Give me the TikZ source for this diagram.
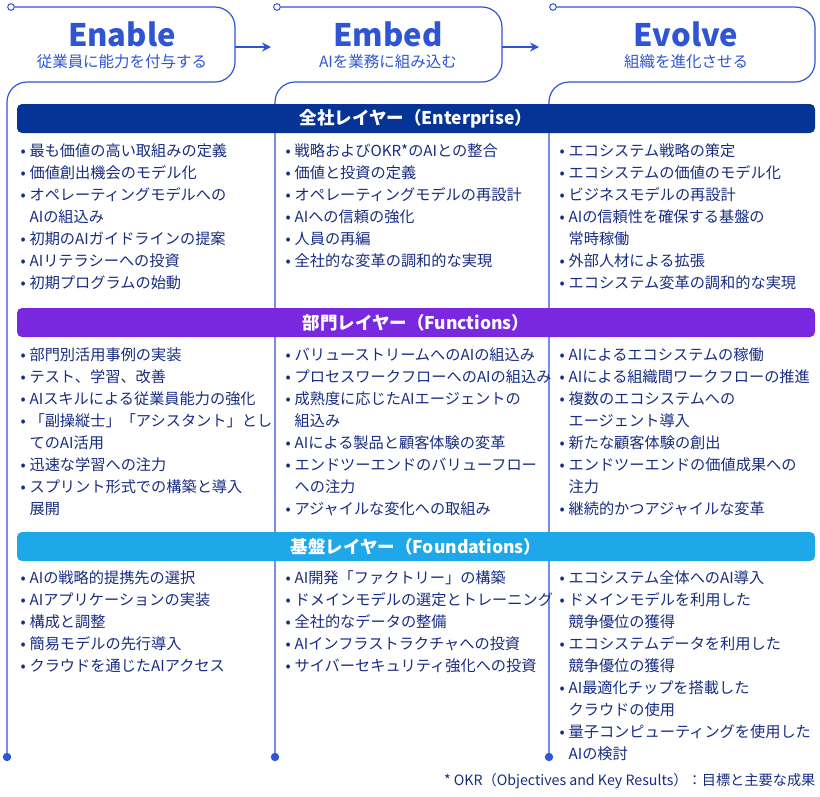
\documentclass[tikz,border=0pt]{standalone}
\usepackage{fontspec}
\setmainfont{Noto Sans CJK JP}
\usetikzlibrary{arrows.meta}

\definecolor{lineblue}{RGB}{47,85,212}
\definecolor{textblue}{RGB}{24,44,130}
\definecolor{entblue}{RGB}{6,52,150}
\definecolor{funpurple}{RGB}{122,40,224}
\definecolor{fndblue}{RGB}{30,168,234}

\newcommand{\bl}{\makebox[9pt][l]{•}}
\newcommand{\nb}{\hspace*{9pt}}

\tikzset{every picture/.style={line width=1.2pt},
  itemtxt/.style={anchor=west,inner sep=0pt,text=textblue,font=\fontsize{15.2}{17}\selectfont},
  layerbar/.style={rounded corners=5pt,draw=none},
  layertxt/.style={text=white,font=\fontsize{17.5}{19}\selectfont\bfseries},
  phasetitle/.style={text=lineblue,font=\fontsize{31}{33}\selectfont\bfseries},
  phasesub/.style={text=lineblue,font=\fontsize{15.5}{17}\selectfont},
  colline/.style={draw=lineblue,rounded corners=20pt}}

\newcommand{\itemcol}[4]{%
  \foreach \t [count=\i] in {#4}
    \node[itemtxt] (#1-\i) at (#2,{#3+22*(\i-1)}) {\t};}

\begin{document}
\begin{tikzpicture}[x=1pt,y=1pt,yscale=-1,xscale=1]
\useasboundingbox (0,0) rectangle (820,796);

% column frames
\coordinate (en-top) at (11,7);
\coordinate (em-top) at (277,7);
\coordinate (ev-top) at (553,7);
\coordinate (en-end) at (7,757);
\coordinate (em-end) at (275,757);
\coordinate (ev-end) at (549,757);
\draw[colline] (14.5,7) -- (235,7) -- (235,82) -- (7,82) -- (en-end);
\draw[colline] (280.5,7) -- (502,7) -- (502,82) -- (275,82) -- (em-end);
\draw[colline] (556.5,7) -- (815,7) -- (815,82) -- (549,82) -- (ev-end);
\foreach \c in {en-top,em-top,ev-top}
  \draw[lineblue,line width=1pt,fill=white] (\c) circle (3.3);
\foreach \c in {en-end,em-end,ev-end}
  \fill[lineblue] (\c) circle (4.2);

% phase titles
\node[phasetitle] (enable) at (122,34) {Enable};
\node[phasesub] (enable-sub) at (122,62) {従業員に能力を付与する};
\node[phasetitle] (embed) at (388,34) {Embed};
\node[phasesub] (embed-sub) at (388,62) {AIを業務に組み込む};
\node[phasetitle] (evolve) at (686,34) {Evolve};
\node[phasesub] (evolve-sub) at (686,62) {組織を進化させる};

% arrows
\coordinate (a1s) at (235,47); \coordinate (a1e) at (271,47);
\coordinate (a2s) at (502,47); \coordinate (a2e) at (539,47);
\draw[lineblue,line width=2pt,-{Stealth[length=9pt,width=9pt]}] (a1s) -- (a1e);
\draw[lineblue,line width=2pt,-{Stealth[length=9pt,width=9pt]}] (a2s) -- (a2e);

% layer bars
\fill[layerbar,entblue] (17,104) rectangle (815,133);
\node[layertxt] (ent) at (416,118.5) {全社レイヤー（Enterprise）};
\fill[layerbar,funpurple] (17,308) rectangle (815,337);
\node[layertxt] (fun) at (416,322.5) {部門レイヤー（Functions）};
\fill[layerbar,fndblue] (17,532) rectangle (815,561);
\node[layertxt] (fnd) at (416,546.5) {基盤レイヤー（Foundations）};

% enterprise
\itemcol{ent1}{20}{151}{\bl 最も価値の高い取組みの定義,\bl 価値創出機会のモデル化,\bl オペレーティングモデルへの,\nb AIの組込み,\bl 初期のAIガイドラインの提案,\bl AIリテラシーへの投資,\bl 初期プログラムの始動}
\itemcol{ent2}{285}{151}{\bl 戦略およびOKR*のAIとの整合,\bl 価値と投資の定義,\bl オペレーティングモデルの再設計,\bl AIへの信頼の強化,\bl 人員の再編,\bl 全社的な変革の調和的な実現}
\itemcol{ent3}{559}{151}{\bl エコシステム戦略の策定,\bl エコシステムの価値のモデル化,\bl ビジネスモデルの再設計,\bl AIの信頼性を確保する基盤の,\nb 常時稼働,\bl 外部人材による拡張,\bl エコシステム変革の調和的な実現}

% functions
\itemcol{fun1}{20}{355}{\bl 部門別活用事例の実装,\bl テスト、学習、改善,\bl AIスキルによる従業員能力の強化,\bl 「副操縦士」「アシスタント」とし,\nb てのAI活用,\bl 迅速な学習への注力,\bl スプリント形式での構築と導入,\nb 展開}
\itemcol{fun2}{285}{355}{\bl バリューストリームへのAIの組込み,\bl プロセスワークフローへのAIの組込み,\bl 成熟度に応じたAIエージェントの,\nb 組込み,\bl AIによる製品と顧客体験の変革,\bl エンドツーエンドのバリューフロー,\nb への注力,\bl アジャイルな変化への取組み}
\itemcol{fun3}{559}{355}{\bl AIによるエコシステムの稼働,\bl AIによる組織間ワークフローの推進,\bl 複数のエコシステムへの,\nb エージェント導入,\bl 新たな顧客体験の創出,\bl エンドツーエンドの価値成果への,\nb 注力,\bl 継続的かつアジャイルな変革}

% foundations
\itemcol{fnd1}{20}{578}{\bl AIの戦略的提携先の選択,\bl AIアプリケーションの実装,\bl 構成と調整,\bl 簡易モデルの先行導入,\bl クラウドを通じたAIアクセス}
\itemcol{fnd2}{285}{578}{\bl AI開発「ファクトリー」の構築,\bl ドメインモデルの選定とトレーニング,\bl 全社的なデータの整備,\bl AIインフラストラクチャへの投資,\bl サイバーセキュリティ強化への投資}
\itemcol{fnd3}{559}{578}{\bl エコシステム全体へのAI導入,\bl ドメインモデルを利用した,\nb 競争優位の獲得,\bl エコシステムデータを利用した,\nb 競争優位の獲得,\bl AI最適化チップを搭載した,\nb クラウドの使用,\bl 量子コンピューティングを使用した,\nb AIの検討}

% footnote
\node[anchor=east,inner sep=0pt,text=textblue,font=\fontsize{14.2}{16}\selectfont] (note) at (816,781) {* OKR（Objectives and Key Results）：目標と主要な成果};

\end{tikzpicture}
\end{document}
